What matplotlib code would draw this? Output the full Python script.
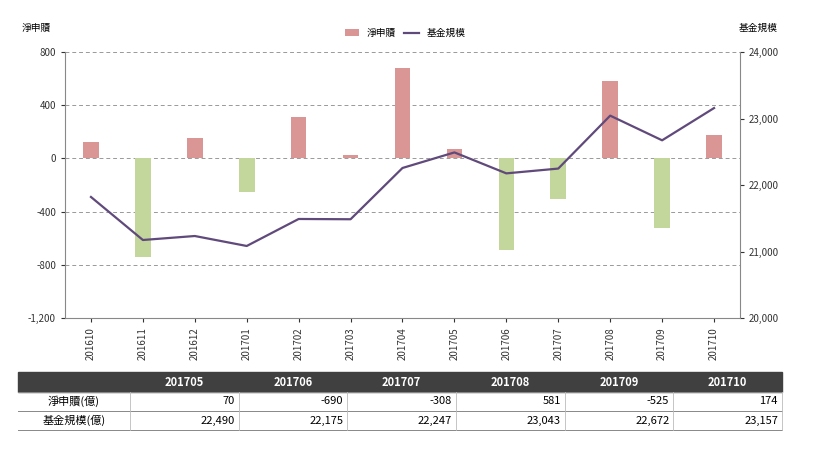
import matplotlib
matplotlib.use("Agg")
import matplotlib.pyplot as plt
from matplotlib.patches import Rectangle
from matplotlib import font_manager as fm

cjk = None
for f in fm.findSystemFonts():
    if 'CJK' in f or 'cjk' in f.lower():
        try:
            fm.fontManager.addfont(f)
        except Exception:
            pass
names = sorted({f.name for f in fm.fontManager.ttflist if 'CJK' in f.name})
pref = [n for n in names if 'TC' in n] + [n for n in names if 'JP' in n] + names
plt.rcParams['font.family'] = 'sans-serif'
plt.rcParams['font.sans-serif'] = pref + ['DejaVu Sans']

months = ["201610","201611","201612","201701","201702","201703","201704",
          "201705","201706","201707","201708","201709","201710"]
net = [120, -745, 150, -250, 315, 25, 677, 70, -690, -308, 581, -525, 174]
aum = [21820, 21173, 21233, 21083, 21489, 21485, 22256, 22490, 22175, 22247, 23043, 22672, 23157]
left_ticks = [800, 400, 0, -400, -800, -1200]
right_ticks = [24000, 23000, 22000, 21000, 20000]
tbl_cols = ["201705","201706","201707","201708","201709","201710"]
tbl_net = ["70","-690","-308","581","-525","174"]
tbl_aum = ["22,490","22,175","22,247","23,043","22,672","23,157"]

W, H = 820, 453
fig = plt.figure(figsize=(W/100, H/100), dpi=100)
ax = fig.add_axes([65/W, 1-318/H, 675/W, 266/H])
x = range(len(months))
cols = ['#d99694' if v >= 0 else '#c3d69b' for v in net]
ax.bar(x, net, width=0.3, color=cols, label='淨申贖')
ax.set_ylim(-1200, 800)
ax.set_yticks(left_ticks)
ax.set_yticklabels([f"{v:,}" for v in left_ticks], fontsize=7)
ax.set_xlim(-0.5, len(months)-0.5)
ax.set_xticks(list(x))
ax.set_xticklabels(months, rotation=90, fontsize=7)
for t in left_ticks:
    ax.axhline(t, color='#999999', lw=0.7, ls=(0, (4, 3)), zorder=0)
for s in ['top', 'right']:
    ax.spines[s].set_visible(False)
for s in ['left', 'bottom']:
    ax.spines[s].set_color('#888888')
ax.tick_params(length=3, colors='#333333')
ax2 = ax.twinx()
ax2.plot(list(x), aum, color='#604a7b', lw=1.6, label='基金規模')
ax2.set_ylim(20000, 24000)
ax2.set_yticks(right_ticks)
ax2.set_yticklabels([f"{v:,}" for v in right_ticks], fontsize=7)
for s in ['top', 'left', 'bottom']:
    ax2.spines[s].set_visible(False)
ax2.spines['right'].set_color('#888888')
ax2.tick_params(length=3, colors='#333333')
fig.text(22/W, 1-28/H, '淨申贖', fontsize=7, va='center')
fig.text(778/W, 1-28/H, '基金規模', fontsize=7, va='center', ha='right')
h1, l1 = ax.get_legend_handles_labels()
h2, l2 = ax2.get_legend_handles_labels()
fig.legend([h1[0], h2[0]], l1+l2, loc='center', bbox_to_anchor=(405/W, 1-33/H),
           ncol=2, frameon=False, fontsize=7, handlelength=1.5, columnspacing=0.8)

x0, x1 = 18, 782
first_w = 112
cw = (x1 - x0 - first_w) / 6
rows_y = [372, 392, 411, 430]
def fy(y): return 1 - y/H
fig.patches.append(Rectangle((x0/W, fy(rows_y[1])), (x1-x0)/W, (rows_y[1]-rows_y[0])/H,
                             transform=fig.transFigure, color='#404040'))
for i, c in enumerate(tbl_cols):
    cx = x0 + first_w + cw*(i+0.5)
    fig.text(cx/W, fy((rows_y[0]+rows_y[1])/2), c, color='white', fontsize=8,
             fontweight='bold', ha='center', va='center')
for r, (lab, vals) in enumerate([('淨申贖(億)', tbl_net), ('基金規模(億)', tbl_aum)]):
    yc = (rows_y[r+1]+rows_y[r+2])/2
    fig.text((x0+first_w/2)/W, fy(yc), lab, fontsize=8, ha='center', va='center')
    for i, v in enumerate(vals):
        fig.text((x0+first_w+cw*(i+1)-4)/W, fy(yc), v, fontsize=8, ha='right', va='center')
for y in rows_y[1:]:
    fig.add_artist(plt.Line2D([x0/W, x1/W], [fy(y), fy(y)], color='#888888', lw=0.7))
for i in range(7):
    xx = x0 + first_w + cw*i
    fig.add_artist(plt.Line2D([xx/W, xx/W], [fy(rows_y[1]), fy(rows_y[3])], color='#bbbbbb', lw=0.6))
fig.savefig('out.png', dpi=100)
